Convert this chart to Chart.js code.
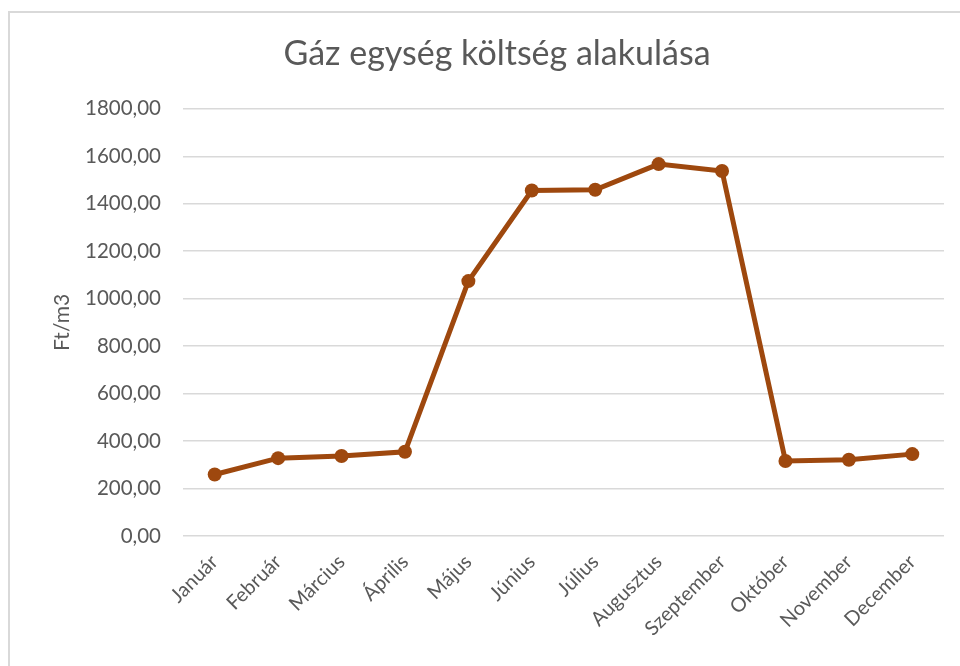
<!DOCTYPE html>
<html>
<head>
<meta charset="utf-8">
<script src="https://cdn.jsdelivr.net/npm/chart.js@4.4.0/dist/chart.umd.min.js"></script>
<style>
  html, body { margin: 0; padding: 0; background: #fff; }
  body { width: 960px; height: 666px; position: relative; overflow: hidden; }
  .frame {
    position: absolute; left: 8px; top: 11px; width: 1000px; height: 700px;
    border: 2px solid #d9d9d9; box-sizing: border-box;
  }
  #wrap { position: absolute; left: 0; top: 0; width: 960px; height: 666px; }
</style>
</head>
<body>
<div class="frame"></div>
<div id="wrap"><canvas id="gasChart" width="960" height="666"></canvas></div>
<script>
// ====================
// Adatok
// ====================
const months = ["Január","Február","Március","Április","Május","Június",
                "Július","Augusztus","Szeptember","Október","November","December"];
const unitCost = [259, 328, 337, 355, 1074, 1456, 1459, 1567, 1538, 316, 321, 345];
const yTicks = [0, 200, 400, 600, 800, 1000, 1200, 1400, 1600, 1800];

const lineColor = "#9e480e";
const textColor = "#595959";
const fontFam = "Lato, 'Open Sans', sans-serif";

// ====================
// Diagram
// ====================
const ctx = document.getElementById("gasChart").getContext("2d");
new Chart(ctx, {
    type: "line",
    data: {
        labels: months,
        datasets: [{
            label: "Ft/m3",
            data: unitCost,
            borderColor: lineColor,
            backgroundColor: lineColor,
            borderWidth: 5,
            pointRadius: 7,
            pointBackgroundColor: lineColor,
            pointBorderColor: lineColor,
            pointBorderWidth: 0,
            tension: 0
        }]
    },
    options: {
        responsive: false,
        animation: false,
        layout: { padding: { left: 50, right: 16, top: 0, bottom: 0 } },
        plugins: {
            legend: { display: false },
            tooltip: { enabled: false },
            title: {
                display: true,
                text: "Gáz egység költség alakulása",
                color: textColor,
                font: { family: fontFam, size: 34, weight: "normal" },
                padding: { top: 34, bottom: 34 }
            }
        },
        scales: {
            x: {
                offset: true,
                grid: { display: false },
                border: { display: false },
                ticks: {
                    color: textColor,
                    font: { family: fontFam, size: 20 },
                    maxRotation: 45, minRotation: 45,
                    padding: 6
                },
                afterFit: s => { s.height = 130; }
            },
            y: {
                min: 0, max: 1800,
                afterBuildTicks: s => { s.ticks = yTicks.map(v => ({ value: v })); },
                grid: { color: "#d9d9d9", lineWidth: 1.5, drawTicks: false },
                border: { display: false },
                ticks: {
                    color: textColor,
                    font: { family: fontFam, size: 20.5 },
                    padding: 22,
                    callback: v => v.toFixed(2).replace(".", ",")
                },
                title: {
                    display: true,
                    text: "Ft/m3",
                    color: textColor,
                    font: { family: fontFam, size: 21 },
                    padding: { top: 0, bottom: 4 }
                },
                afterFit: s => { s.width = 133; }
            }
        }
    }
});
</script>
</body>
</html>
